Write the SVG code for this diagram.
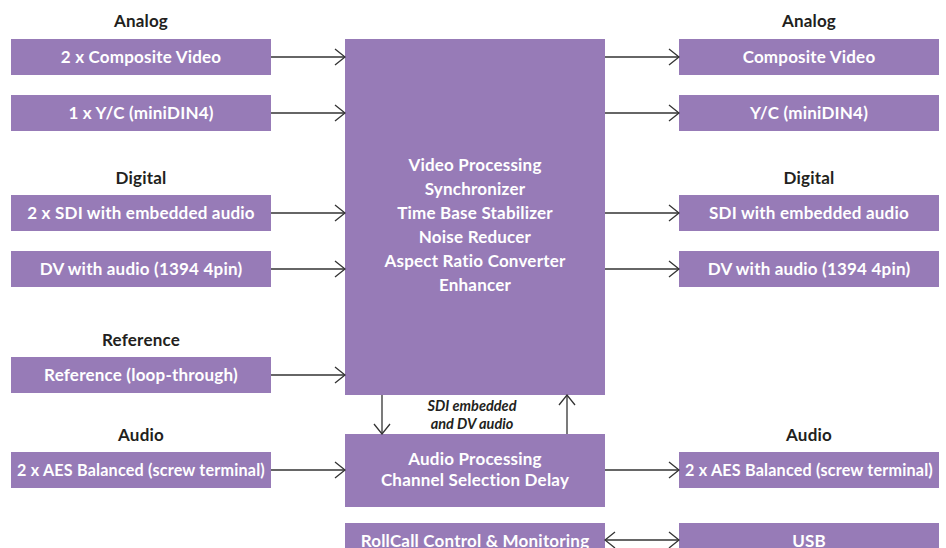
<svg xmlns="http://www.w3.org/2000/svg" width="946" height="548" viewBox="0 0 946 548">
<style>
.box{fill:#977bb7}
.t{font-family:Lato,"Open Sans","Liberation Sans",sans-serif;font-weight:bold;font-size:17px;letter-spacing:0.2px;fill:#ffffff;text-anchor:middle}
.h{font-family:Lato,"Open Sans","Liberation Sans",sans-serif;font-weight:bold;font-size:17px;letter-spacing:0.2px;fill:#231f20;text-anchor:middle}
.i{font-family:Lato,"Open Sans","Liberation Sans",sans-serif;font-weight:bold;font-style:italic;font-size:14.5px;fill:#231f20;text-anchor:middle}
.c{stroke:#333333;stroke-width:1.3;fill:none}
</style>
<defs>
<marker id="ah" viewBox="0 0 12 18" refX="11" refY="9" markerWidth="12" markerHeight="18" markerUnits="userSpaceOnUse" orient="auto-start-reverse">
<path d="M1,1 L11,9 L1,17" fill="none" stroke="#333333" stroke-width="1.3"/>
</marker>
</defs>
<rect width="946" height="548" fill="#ffffff"/>
<g id="headings">
<text class="h" x="141" y="27">Analog</text>
<text class="h" x="141" y="184">Digital</text>
<text class="h" x="141" y="346">Reference</text>
<text class="h" x="141" y="441">Audio</text>
<text class="h" x="809" y="27">Analog</text>
<text class="h" x="809" y="184">Digital</text>
<text class="h" x="809" y="441">Audio</text>
</g>
<g id="in-composite"><rect class="box" x="11" y="39" width="260" height="36"/><text class="t" x="141" y="63">2 x Composite Video</text></g>
<g id="in-yc"><rect class="box" x="11" y="95" width="260" height="36"/><text class="t" x="141" y="119">1 x Y/C (miniDIN4)</text></g>
<g id="in-sdi"><rect class="box" x="11" y="195" width="260" height="36"/><text class="t" x="141" y="219">2 x SDI with embedded audio</text></g>
<g id="in-dv"><rect class="box" x="11" y="251" width="260" height="36"/><text class="t" x="141" y="275">DV with audio (1394 4pin)</text></g>
<g id="in-ref"><rect class="box" x="11" y="357" width="260" height="36"/><text class="t" x="141" y="381">Reference (loop-through)</text></g>
<g id="in-aes"><rect class="box" x="11" y="452" width="260" height="36"/><text class="t" x="141" y="476" textLength="248" lengthAdjust="spacingAndGlyphs">2 x AES Balanced (screw terminal)</text></g>
<g id="video-proc"><rect class="box" x="345" y="39" width="260" height="356"/>
<text class="t" x="475" y="171">Video Processing</text>
<text class="t" x="475" y="195">Synchronizer</text>
<text class="t" x="475" y="219">Time Base Stabilizer</text>
<text class="t" x="475" y="243">Noise Reducer</text>
<text class="t" x="475" y="267">Aspect Ratio Converter</text>
<text class="t" x="475" y="291">Enhancer</text>
</g>
<g id="audio-proc"><rect class="box" x="345" y="434" width="260" height="73"/>
<text class="t" x="475" y="465">Audio Processing</text>
<text class="t" x="475" y="486">Channel Selection Delay</text>
</g>
<g id="rollcall"><rect class="box" x="345" y="523" width="260" height="40"/><text class="t" x="475" y="547">RollCall Control &amp; Monitoring</text></g>
<g id="out-composite"><rect class="box" x="679" y="39" width="260" height="36"/><text class="t" x="809" y="63">Composite Video</text></g>
<g id="out-yc"><rect class="box" x="679" y="95" width="260" height="36"/><text class="t" x="809" y="119">Y/C (miniDIN4)</text></g>
<g id="out-sdi"><rect class="box" x="679" y="195" width="260" height="36"/><text class="t" x="809" y="219">SDI with embedded audio</text></g>
<g id="out-dv"><rect class="box" x="679" y="251" width="260" height="36"/><text class="t" x="809" y="275">DV with audio (1394 4pin)</text></g>
<g id="out-aes"><rect class="box" x="679" y="452" width="260" height="36"/><text class="t" x="809" y="476" textLength="248" lengthAdjust="spacingAndGlyphs">2 x AES Balanced (screw terminal)</text></g>
<g id="usb"><rect class="box" x="679" y="523" width="260" height="40"/><text class="t" x="809" y="547">USB</text></g>
<g id="connectors">
<line class="c" x1="271" y1="57" x2="345" y2="57" marker-end="url(#ah)"/>
<line class="c" x1="271" y1="113" x2="345" y2="113" marker-end="url(#ah)"/>
<line class="c" x1="271" y1="213" x2="345" y2="213" marker-end="url(#ah)"/>
<line class="c" x1="271" y1="269" x2="345" y2="269" marker-end="url(#ah)"/>
<line class="c" x1="271" y1="375" x2="345" y2="375" marker-end="url(#ah)"/>
<line class="c" x1="271" y1="470" x2="345" y2="470" marker-end="url(#ah)"/>
<line class="c" x1="605" y1="57" x2="679" y2="57" marker-end="url(#ah)"/>
<line class="c" x1="605" y1="113" x2="679" y2="113" marker-end="url(#ah)"/>
<line class="c" x1="605" y1="213" x2="679" y2="213" marker-end="url(#ah)"/>
<line class="c" x1="605" y1="269" x2="679" y2="269" marker-end="url(#ah)"/>
<line class="c" x1="605" y1="470" x2="679" y2="470" marker-end="url(#ah)"/>
<line class="c" x1="382" y1="395" x2="382" y2="434" marker-end="url(#ah)"/>
<line class="c" x1="567" y1="434" x2="567" y2="395" marker-end="url(#ah)"/>
<line class="c" x1="605" y1="540" x2="679" y2="540" marker-start="url(#ah)" marker-end="url(#ah)"/>
<text class="i" x="472" y="411">SDI embedded</text>
<text class="i" x="472" y="429">and DV audio</text>
</g>
</svg>
